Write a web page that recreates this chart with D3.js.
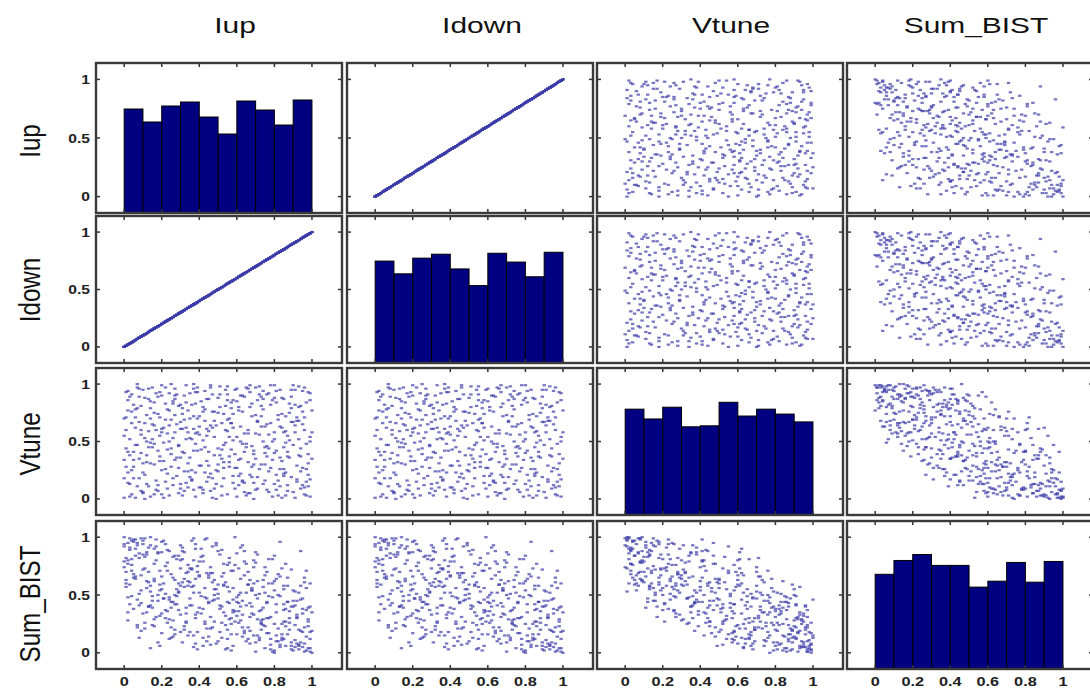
<!DOCTYPE html>
<html><head><meta charset="utf-8">
<script src="https://cdn.jsdelivr.net/npm/d3@7"></script>
<style>body{margin:0;background:#fff}</style>
</head><body><svg id="c" width="1090" height="693"></svg>
<script>
// ---------- data ----------
const variables = ["Iup", "Idown", "Vtune", "Sum_BIST"];
const xTickValues = [0, 0.2, 0.4, 0.6, 0.8, 1];
const xTickLabels = ["0", "0.2", "0.4", "0.6", "0.8", "1"];
const yTickValues = [0, 0.5, 1];
const yTickLabels = ["0", "0.5", "1"];
const binEdges = [0, 0.1, 0.2, 0.3, 0.4, 0.5, 0.6, 0.7, 0.8, 0.9, 1];
// histogram counts (10 bins)
const histIup = [104, 91, 107, 111, 96, 79, 112, 103, 88, 113];
const histIdown = [104, 91, 107, 111, 96, 79, 112, 103, 88, 113];
const histVtune = [108, 98, 110, 90, 91, 115, 101, 108, 103, 95];
const histSum = [96, 110, 116, 105, 105, 83, 89, 108, 88, 109];
// sample values, in percent
const iupPct = [12,85,47,3,66,29,94,58,21,77,40,8,99,35,71,16,52,89,26,63,5,82,44,31,97,
55,18,73,38,1,87,61,24,80,10,49,92,33,68,14,57,95,42,6,78,27,64,36,84,19,
51,90,11,70,32,2,75,46,98,23,60,15,86,39,69,9,54,81,28,93,45,20,74,37,4,
62,88,17,50,79,30,96,13,67,41,0,83,56,22,72,34,91,7,59,25,76,43,100,48,12,
65,27,85,4,53,39,92,16,71,30,58,9,80,46,22,96,35,68,1,74,42,87,19,61,33,
78,11,50,94,24,63,6,84,38,56,29,99,17,70,44,89,3,66,31,52,81,14,59,40,97,
20,73,36,90,8,55,26,77,47,2,64,93,32,86,13,69,45,98,23,57,10,75,37,82,51,
18,95,60,5,43,76,28,88,15,67,34,53,0,91,41,72,25,85,48,7,62,30,79,21,54,
99,35,12,70,46,83,27,58,3,92,39,65,16,77,50,9,86,31,63,20,97,44,1,74,56,
23,89,42,6,68,33,80,14,52,95,26,61,38,73,10,48,84,29,66,2,91,45,19,78,57,
11,64,37,93,4,55,81,24,71,47,15,98,34,60,8,87,40,76,21,51,94,30,67,13,82,
43,0,72,28,96,53,17,85,36,62,7,79,49,25,90,59,32,69,14,100,41,5,75,22,58,
88,35,10,63,46,80,18,97,54,27,71,3,44,92,20,65,37,83,9,56,31,74,48,95,16,
60,24,86,39,2,77,52,13,69,33,98,42,8,61,26,84,50,19,73,4,91,36,67,12,57,
79,47,23,94,38,1,70,55,29,87,15,62,40,99,6,75,32,53,18,82,45,11,68,25,96,
34,89,58,7,76,43,21,93,64,30,51,0,85,37,72,16,49,80,27,99,41,5,66,22,54,
3,96,10,90,48,26,73,14,60,85,38,2,77,55,19,94,31,66,9,44,81,24,62,99,35,
13,70,46,88,28,6,57,83,40,17,92,33,75,50,1,67,23,97,42,80,12,59,36,86,20,
65,4,52,91,29,78,45,8,71,34,95,18,56,83,39,0,61,25,87,49,14,74,32,98,58,
22,69,5,47,84,27,63,11,93,38,76,53,16,89,43,7,68,30,100,55,20,81,37,64,2];
// Idown is identical to Iup in the figure
const idownPct = iupPct;
const vtunePct = [73,22,91,38,57,5,81,14,62,44,29,96,50,70,9,48,35,67,85,76,18,3,55,41,26,
98,12,63,83,60,37,20,92,88,31,0,15,52,46,79,66,94,8,71,27,58,89,17,74,33,
80,6,53,97,24,86,40,64,11,78,2,45,59,93,30,7,49,84,36,68,19,99,13,72,25,
90,51,16,75,34,61,4,87,21,43,1,95,28,69,56,10,82,47,39,100,65,23,77,54,32,
3,90,45,66,18,58,29,75,86,9,62,40,13,97,26,60,36,72,93,50,80,7,55,34,84,
99,21,44,37,64,15,78,88,2,70,47,92,8,57,33,19,52,96,74,11,42,85,27,63,48,
4,81,25,67,35,91,53,6,76,14,41,98,69,23,59,0,87,31,43,79,95,16,61,73,38,
89,12,54,28,94,46,20,83,65,5,77,32,70,58,10,91,39,26,68,100,22,82,50,1,60,
17,92,50,35,7,63,73,86,13,71,42,97,30,56,24,81,3,61,48,90,84,15,44,78,37,
9,95,51,62,19,99,40,2,66,27,83,12,57,89,23,76,33,46,5,94,64,29,71,82,43,
88,14,96,38,4,59,21,77,67,1,52,93,31,85,18,55,72,8,49,98,24,36,80,11,69,
45,34,26,91,10,74,60,87,16,50,79,2,64,28,47,95,7,39,70,58,85,41,30,97,20,
75,53,6,90,22,58,42,3,81,34,68,89,61,17,25,45,100,11,56,32,79,94,9,65,84,
27,3,49,70,23,92,43,96,14,62,39,5,67,77,18,62,88,37,30,76,1,52,99,13,66,
86,18,57,9,93,28,73,4,81,41,97,35,10,54,47,63,90,27,74,16,59,0,83,44,71,
24,89,51,11,37,78,33,80,6,67,91,55,20,42,98,64,13,52,87,2,29,82,60,15,95,
2,97,5,99,38,12,72,31,96,58,48,77,24,69,93,44,3,32,60,87,8,50,63,86,19,
45,8,99,36,65,1,84,26,56,92,68,14,45,30,71,93,22,15,76,99,38,9,82,72,58,
48,91,3,95,27,66,41,89,19,58,76,7,54,36,97,18,80,69,12,25,49,87,40,21,74,
83,42,34,62,1,96,16,66,52,23,91,47,4,79,68,97,28,13,35,86,61,94,8,57,41];
const sumPct = [35,58,22,91,12,84,9,71,60,30,52,41,18,47,62,77,40,6,14,33,96,68,69,88,37,
4,87,25,8,63,44,50,29,2,72,93,45,27,56,53,16,5,79,66,31,42,19,97,11,59,
38,54,83,1,64,48,74,21,39,26,86,45,23,35,80,99,61,15,49,3,67,17,57,52,76,
28,20,92,10,48,73,65,40,43,34,100,7,82,30,51,70,24,95,36,13,44,98,0,55,62,
77,50,27,81,59,18,33,23,29,80,46,54,84,31,94,8,41,40,57,63,6,58,71,26,39,
3,73,88,19,12,93,64,16,90,53,37,1,98,9,47,72,42,22,61,66,35,4,76,67,14,
96,26,57,40,86,12,28,60,45,95,79,6,20,38,70,74,43,29,89,2,34,52,58,21,85,
9,47,32,68,25,17,81,36,49,63,15,69,74,11,83,13,44,55,27,46,91,33,60,97,24,
40,18,56,87,69,5,63,37,89,30,75,10,64,49,51,19,77,81,22,55,2,99,60,39,43,
78,9,38,90,54,26,62,100,13,34,44,73,30,20,85,50,25,53,59,28,41,65,32,7,71,
21,88,5,52,97,57,42,48,15,92,39,4,58,44,82,16,66,70,47,18,46,93,31,91,10,
27,79,36,42,61,35,80,12,72,64,24,81,8,68,45,27,87,33,58,19,49,98,67,37,56,
26,61,94,14,74,54,50,71,3,84,47,59,21,31,66,41,15,96,43,78,9,29,63,38,62,
48,88,6,70,77,17,26,40,60,34,23,84,51,43,65,13,47,54,28,71,53,73,8,85,30,
1,61,36,88,33,70,50,76,52,65,24,40,79,12,84,4,23,58,45,50,14,99,34,39,22,
62,3,35,93,43,56,47,20,67,18,41,92,37,80,11,29,55,25,16,60,90,38,59,75,32,
99,1,97,2,46,83,37,93,16,42,64,35,81,20,6,58,91,70,67,10,64,46,52,4,73,
61,78,7,30,55,98,25,49,39,31,8,69,23,59,82,19,71,56,13,0,87,100,41,27,34,
52,49,89,5,60,12,44,13,85,76,18,86,29,66,3,94,36,22,44,95,41,24,57,27,6,
51,15,65,69,73,20,45,26,7,94,30,77,90,40,48,22,54,58,35,44,87,10,99,17,80];

// ---------- layout ----------
const colLeft = [96, 347, 597, 847];
const colW = 246;
const rowTop = [63, 216, 368, 521];
const rowH = [150, 147, 147, 148];
const titleX = [235, 482, 731, 976];
const rowLabelY = [141, 290, 444, 604];
const SX = 1.36, SY = 1.1; // horizontal stretch of the original figure

const series = [iupPct, idownPct, vtunePct, sumPct].map(a => a.map(v => v / 100));
const hists = [histIup, histIdown, histVtune, histSum];

const svg = d3.select("#c");
svg.append("rect").attr("width", 1090).attr("height", 693).attr("fill", "#fff");

const defs = svg.append("defs");

for (let r = 0; r < 4; r++) {
  for (let c = 0; c < 4; c++) {
    const L = colLeft[c], T = rowTop[r], W = colW, H = rowH[r];
    const x = d3.scaleLinear().domain([-0.15, 1.16]).range([L, L + W]);
    const y = d3.scaleLinear().domain([-0.14, 1.14]).range([T + H, T]);
    const g = svg.append("g");
    const clipId = `clip-${r}-${c}`;
    defs.append("clipPath").attr("id", clipId)
      .append("rect").attr("x", L).attr("y", T).attr("width", W).attr("height", H);
    g.append("rect").attr("x", L).attr("y", T).attr("width", W).attr("height", H).attr("fill", "#fff");
    const content = g.append("g").attr("clip-path", `url(#${clipId})`);

    if (r === c) {
      const cy = d3.scaleLinear().domain([0, 150]).range([T + H, T]);
      const counts = hists[r];
      content.selectAll("rect.bar").data(counts).join("rect")
        .attr("class", "bar")
        .attr("x", (d, i) => x(binEdges[i]))
        .attr("width", (d, i) => x(binEdges[i + 1]) - x(binEdges[i]))
        .attr("y", d => cy(d))
        .attr("height", d => cy(0) - cy(d) + 2)
        .attr("fill", "#000080")
        .attr("stroke", "#000").attr("stroke-width", 1);
    } else {
      const xs = series[c], ys = series[r];
      content.selectAll("rect.pt").data(d3.range(xs.length)).join("rect")
        .attr("class", "pt")
        .attr("x", i => x(xs[i]) - 1.7)
        .attr("y", i => y(ys[i]) - 1.1)
        .attr("width", 3.4).attr("height", 2.2)
        .attr("fill", "#3a3aa8").attr("fill-opacity", 0.7);
    }

    // inside ticks on all sides
    const tk = g.append("g").attr("stroke", "#333").attr("stroke-width", 1.5);
    xTickValues.forEach(v => {
      tk.append("line").attr("x1", x(v)).attr("x2", x(v)).attr("y1", T + H).attr("y2", T + H - 4);
      tk.append("line").attr("x1", x(v)).attr("x2", x(v)).attr("y1", T).attr("y2", T + 4);
    });
    yTickValues.forEach(v => {
      tk.append("line").attr("x1", L).attr("x2", L + 4).attr("y1", y(v)).attr("y2", y(v));
      tk.append("line").attr("x1", L + W).attr("x2", L + W - 4).attr("y1", y(v)).attr("y2", y(v));
    });

    g.append("rect").attr("x", L).attr("y", T).attr("width", W).attr("height", H)
      .attr("fill", "none").attr("stroke", "#3a3a3a").attr("stroke-width", 2.4);

    // tick labels
    if (c === 0) {
      yTickValues.forEach((v, i) => {
        svg.append("text")
          .attr("transform", `translate(90,${y(v) + 4.5}) scale(${SX},${SY})`)
          .attr("text-anchor", "end")
          .attr("font-family", "Liberation Sans, Arial, sans-serif")
          .attr("font-weight", "bold").attr("font-size", 11.5).attr("fill", "#222")
          .text(yTickLabels[i]);
      });
    }
    if (r === 3) {
      xTickValues.forEach((v, i) => {
        svg.append("text")
          .attr("transform", `translate(${x(v)},686) scale(${SX},${SY})`)
          .attr("text-anchor", "middle")
          .attr("font-family", "Liberation Sans, Arial, sans-serif")
          .attr("font-weight", "bold").attr("font-size", 12).attr("fill", "#222")
          .text(xTickLabels[i]);
      });
    }
  }
}

// column titles and row labels
variables.forEach((name, i) => {
  svg.append("text")
    .attr("transform", `translate(${titleX[i]},33) scale(${SX},1)`)
    .attr("text-anchor", "middle")
    .attr("font-family", "Liberation Sans, Arial, sans-serif")
    .attr("font-size", 22).attr("fill", "#111")
    .text(name);
  svg.append("text")
    .attr("transform", `translate(40,${rowLabelY[i]}) rotate(-90) scale(${SY},${SX})`)
    .attr("text-anchor", "middle")
    .attr("font-family", "Liberation Sans, Arial, sans-serif")
    .attr("font-size", 22).attr("fill", "#111")
    .text(name);
});
</script>
</body></html>
